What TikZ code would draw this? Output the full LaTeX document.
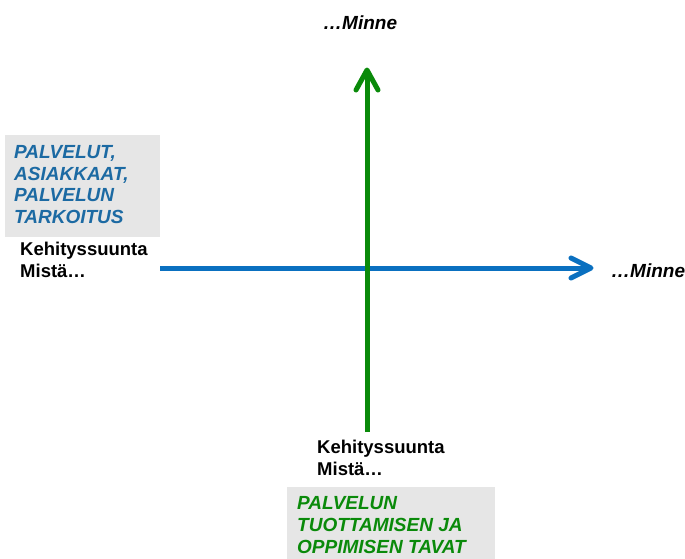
\documentclass[tikz,border=0pt]{standalone}
\usepackage{fontspec}
\setmainfont{Liberation Sans}
\usetikzlibrary{calc}
\definecolor{boxgray}{HTML}{E6E6E6}
\definecolor{txtblue}{HTML}{1C6AA3}
\definecolor{arrblue}{HTML}{0A70C0}
\definecolor{arrgreen}{HTML}{0A8A0A}
\definecolor{txtgreen}{HTML}{0A8A0A}
\begin{document}
\begin{tikzpicture}[x=1pt,y=-1pt,
  lbl/.style={font=\fontsize{18.5}{21.7}\selectfont\bfseries, inner sep=0pt, anchor=base west, align=left},
  ilbl/.style={lbl, font=\fontsize{19}{21.7}\selectfont\bfseries\itshape},
  graybox/.style={fill=boxgray, draw=none},
  axisline/.style={line width=5pt},
  barb/.style={line width=5pt, line cap=round, line join=round}]
\useasboundingbox (0,0) rectangle (685,558);
\fill[white] (0,0) rectangle (685,558);
% gray boxes
\node[graybox, minimum width=155pt, minimum height=102pt, anchor=north west, inner sep=0pt] (box1) at (5,135) {};
\node[graybox, minimum width=208pt, minimum height=72pt, anchor=north west, inner sep=0pt] (box2) at (287,487) {};
% texts (anchor = baseline of the last line)
\node[ilbl, text=txtblue] (t1) at (14,223.5) {PALVELUT,\\ASIAKKAAT,\\PALVELUN\\TARKOITUS};
\node[lbl] (k1) at (20,277) {Kehityssuunta\\Mistä…};
\node[lbl] (k2) at (317,475.5) {Kehityssuunta\\Mistä…};
\node[ilbl, text=txtgreen] (t2) at (297,553) {PALVELUN\\TUOTTAMISEN JA\\OPPIMISEN TAVAT};
\node[ilbl] (m1) at (323,29) {…Minne};
\node[ilbl] (m2) at (611,277) {…Minne};
% axes
\coordinate (hs) at (160,268);
\coordinate (he) at (591,268);
\coordinate (vs) at (367,432);
\coordinate (ve) at (367,70);
\draw[axisline, arrblue] (hs) -- (he);
\draw[barb, arrblue] ($(he)+(-20,-10)$) -- (he) -- ($(he)+(-20,10)$);
\draw[axisline, arrgreen] (vs) -- (ve);
\draw[barb, arrgreen] ($(ve)+(-11,20)$) -- (ve) -- ($(ve)+(11,20)$);
\end{tikzpicture}
\end{document}
